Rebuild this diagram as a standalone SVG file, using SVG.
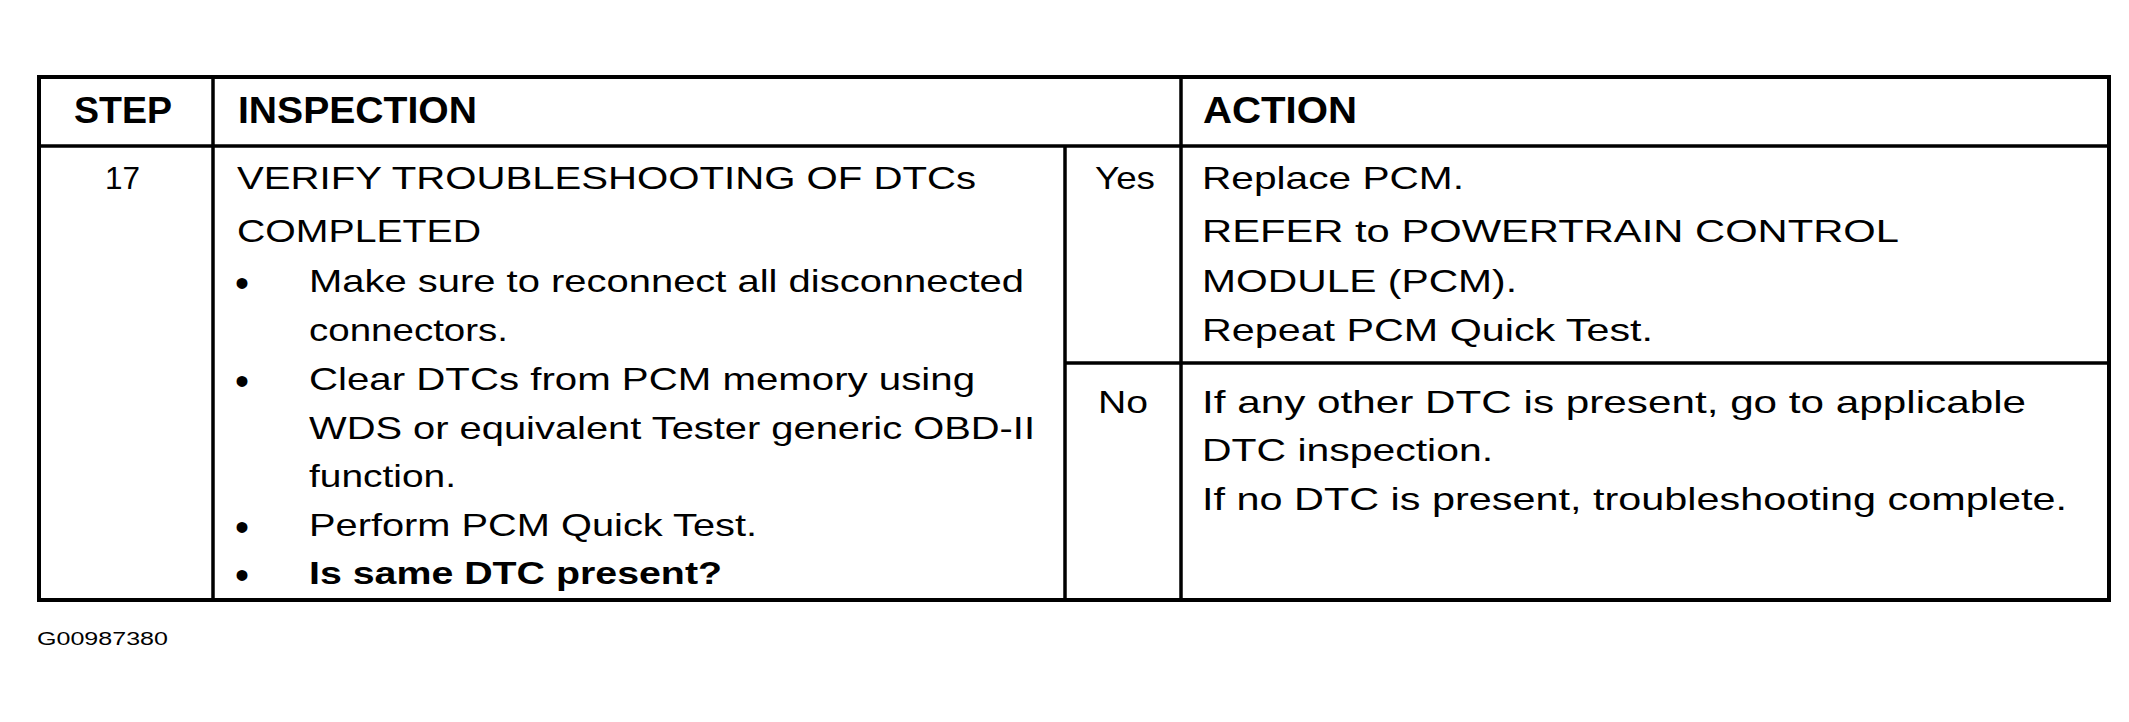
<svg xmlns="http://www.w3.org/2000/svg" width="2129" height="722" viewBox="0 0 2129 722">
<style>
  .frame { fill: none; stroke: #000; stroke-width: 4; }
  .rule { stroke: #000; stroke-width: 3.5; fill: none; }
  .hdr { font-family: "Liberation Sans", Arial, sans-serif; font-weight: bold; font-size: 36px; fill: #000; }
  .body { font-family: "Liberation Sans", Arial, sans-serif; font-size: 32px; fill: #000; }
  .bold { font-weight: bold; }
  .bul { font-family: "Liberation Sans", Arial, sans-serif; font-size: 40px; fill: #000; text-anchor: middle; }
  .code { font-family: "Liberation Sans", Arial, sans-serif; font-size: 18.5px; fill: #000; }
</style>
<rect width="2129" height="722" fill="#fff"/>
<g id="table-lines">
  <rect class="frame" x="39" y="77" width="2070" height="523"/>
  <line class="rule" x1="39" y1="146" x2="2109" y2="146"/>
  <line class="rule" x1="213" y1="77" x2="213" y2="600"/>
  <line class="rule" x1="1181" y1="77" x2="1181" y2="600"/>
  <line class="rule" x1="1065" y1="146" x2="1065" y2="600"/>
  <line class="rule" x1="1065" y1="363" x2="2109" y2="363"/>
</g>
<g id="header">
  <text class="hdr" x="74" y="123" textLength="98" lengthAdjust="spacingAndGlyphs">STEP</text>
  <text class="hdr" x="238" y="123" textLength="239" lengthAdjust="spacingAndGlyphs">INSPECTION</text>
  <text class="hdr" x="1203" y="123" textLength="154" lengthAdjust="spacingAndGlyphs">ACTION</text>
</g>
<g id="step">
  <text class="body" x="105" y="189" textLength="35" lengthAdjust="spacingAndGlyphs">17</text>
</g>
<g id="inspection">
  <text class="body" x="237" y="189" textLength="739" lengthAdjust="spacingAndGlyphs">VERIFY TROUBLESHOOTING OF DTCs</text>
  <text class="body" x="237" y="242" textLength="244" lengthAdjust="spacingAndGlyphs">COMPLETED</text>
  <text class="bul" x="242" y="297">•</text>
  <text class="body" x="309" y="292" textLength="715" lengthAdjust="spacingAndGlyphs">Make sure to reconnect all disconnected</text>
  <text class="body" x="309" y="341" textLength="199" lengthAdjust="spacingAndGlyphs">connectors.</text>
  <text class="bul" x="242" y="395">•</text>
  <text class="body" x="309" y="390" textLength="666" lengthAdjust="spacingAndGlyphs">Clear DTCs from PCM memory using</text>
  <text class="body" x="309" y="439" textLength="726" lengthAdjust="spacingAndGlyphs">WDS or equivalent Tester generic OBD-II</text>
  <text class="body" x="309" y="487" textLength="147" lengthAdjust="spacingAndGlyphs">function.</text>
  <text class="bul" x="242" y="541">•</text>
  <text class="body" x="309" y="536" textLength="448" lengthAdjust="spacingAndGlyphs">Perform PCM Quick Test.</text>
  <text class="bul" x="242" y="589">•</text>
  <text class="body bold" x="309" y="584" textLength="413" lengthAdjust="spacingAndGlyphs">Is same DTC present?</text>
</g>
<g id="yes-row">
  <text class="body" x="1095" y="189" textLength="60" lengthAdjust="spacingAndGlyphs">Yes</text>
  <text class="body" x="1202" y="189" textLength="262" lengthAdjust="spacingAndGlyphs">Replace PCM.</text>
  <text class="body" x="1202" y="242" textLength="697" lengthAdjust="spacingAndGlyphs">REFER to POWERTRAIN CONTROL</text>
  <text class="body" x="1202" y="292" textLength="315" lengthAdjust="spacingAndGlyphs">MODULE (PCM).</text>
  <text class="body" x="1202" y="341" textLength="451" lengthAdjust="spacingAndGlyphs">Repeat PCM Quick Test.</text>
</g>
<g id="no-row">
  <text class="body" x="1098" y="413" textLength="50" lengthAdjust="spacingAndGlyphs">No</text>
  <text class="body" x="1202" y="413" textLength="824" lengthAdjust="spacingAndGlyphs">If any other DTC is present, go to applicable</text>
  <text class="body" x="1202" y="461" textLength="291" lengthAdjust="spacingAndGlyphs">DTC inspection.</text>
  <text class="body" x="1202" y="510" textLength="865" lengthAdjust="spacingAndGlyphs">If no DTC is present, troubleshooting complete.</text>
</g>
<g id="figure-code">
  <text class="code" x="37" y="645" textLength="131" lengthAdjust="spacingAndGlyphs">G00987380</text>
</g>
</svg>
